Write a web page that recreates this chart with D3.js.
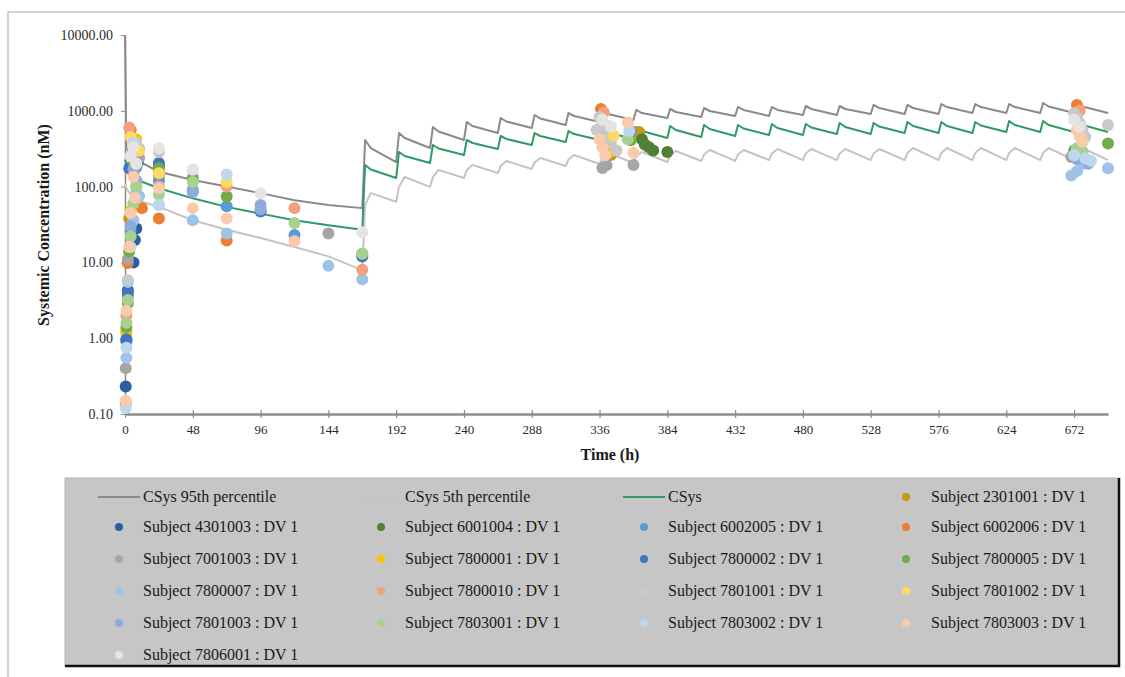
<!DOCTYPE html>
<html>
<head>
<meta charset="utf-8">
<script src="https://cdn.jsdelivr.net/npm/d3@7"></script>
<style>
  html, body { margin: 0; padding: 0; background: #fff; }
  svg { display: block; font-family: "Liberation Serif", "Times New Roman", serif; }
</style>
</head>
<body>
<svg id="chart" width="1125" height="677"></svg>
<script>
// ---- simulated systemic concentration (nM) vs time (h) ----
const simHours = [0, 1, 4, 12, 24, 48, 72, 96, 120, 144,
  168, 170, 174, 192, 194, 198, 216, 218, 222, 240, 242, 246,
  264, 266, 270, 288, 290, 294, 312, 314, 318, 336, 338, 342,
  360, 362, 366, 384, 386, 390, 408, 410, 414, 432, 434, 438,
  456, 458, 462, 480, 482, 486, 504, 506, 510, 528, 530, 534,
  552, 554, 558, 576, 578, 582, 600, 602, 606, 624, 626, 630,
  648, 650, 654, 672, 674, 678, 696];

const csys95 = [10000, 320, 260, 205, 157, 122, 100, 82, 66, 57,
  52, 412, 323, 211, 509, 438, 323, 611, 533, 412, 712, 630,
  509, 804, 723, 593, 880, 792, 650, 935, 854, 712, 994, 907,
  756, 1025, 935, 804, 1056, 964, 828, 1089, 994, 854, 1122, 1025,
  854, 1122, 1025, 880, 1157, 1056, 880, 1157, 1056, 907, 1193, 1089,
  907, 1193, 1089, 907, 1229, 1122, 935, 1229, 1122, 935, 1229, 1122,
  935, 1268, 1140, 935, 1268, 1140, 935];

const csys5 = [110, 95, 78, 63, 54, 36, 27, 21, 16, 12,
  7.9, 57, 82, 63, 99, 134, 99, 134, 166, 130, 166, 193,
  151, 187, 218, 171, 208, 238, 187, 228, 261, 199, 242, 278,
  205, 250, 286, 211, 257, 295, 218, 265, 304, 218, 265, 304,
  224, 274, 313, 224, 274, 313, 224, 274, 313, 224, 274, 313,
  224, 278, 323, 224, 278, 323, 224, 278, 323, 224, 278, 323,
  224, 278, 323, 224, 278, 323, 224];

const csys = [230, 200, 160, 116, 95, 70, 54, 44, 36, 31,
  27, 193, 168, 130, 286, 253, 205, 354, 318, 261, 412, 376,
  313, 465, 425, 354, 509, 465, 388, 541, 494, 412, 575, 517,
  425, 611, 541, 438, 630, 558, 451, 650, 575, 465, 650, 584,
  479, 670, 593, 479, 670, 602, 494, 690, 611, 494, 690, 620,
  509, 712, 630, 509, 712, 630, 509, 712, 640, 525, 734, 650,
  525, 734, 650, 525, 734, 650, 525];

// ---- observed concentrations, [hour, nM] ----
const s2301001 = [[1, 1.25], [3, 38], [6, 150], [24, 140], [344, 262], [364, 525]];
const s4301003 = [[0.5, 0.23], [1, 0.95], [2, 4.3], [6, 10], [7, 19.7], [8, 28], [9, 210], [24, 190]];
const s6001004 = [[366, 420], [368, 360], [371, 330], [374, 300], [384, 286]];
const s6002005 = [[1, 0.9], [2, 3.6], [4, 26], [8, 180], [10, 310], [24, 120], [48, 90], [72, 55], [120, 23], [342, 620], [358, 540]];
const s6002006 = [[0.5, 0.14], [2, 9.8], [4, 560], [12, 52], [24, 38], [72, 19.5], [337, 1060], [674, 1190]];
const s7001003 = [[0.5, 0.4], [2, 11], [6, 300], [10, 240], [48, 85], [144, 24], [338, 176], [341, 192], [360, 193], [670, 245]];
const s7800001 = [[1, 1.15], [4, 48], [8, 420], [24, 160], [343, 285]];
const s7800002 = [[1, 0.97], [2, 4.0], [3, 175], [24, 205], [96, 47], [168, 12]];
const s7800005 = [[1, 1.4], [2, 2.9], [3, 14], [6, 205], [8, 100], [24, 175], [48, 130], [72, 74], [168, 13], [358, 410], [672, 300], [696, 370]];
const s7800007 = [[1, 0.55], [2, 5.5], [6, 36], [8, 82], [10, 75], [24, 57], [48, 36], [72, 24], [144, 9], [168, 6], [670, 140], [674, 160], [678, 200], [696, 175]];
const s7800010 = [[1, 2.0], [3, 600], [24, 100], [72, 100], [120, 52], [168, 8], [339, 950], [676, 1010]];
const s7801001 = [[2, 5.8], [6, 290], [8, 380], [24, 285], [48, 165], [334, 560], [336, 820], [338, 700], [340, 610], [342, 480], [344, 380], [348, 300], [672, 930], [674, 820], [676, 680], [678, 560], [680, 450], [696, 650]];
const s7801002 = [[4, 450], [10, 300], [24, 150], [72, 115], [346, 470]];
const s7801003 = [[4, 30], [6, 170], [8, 120], [48, 85], [96, 57], [96, 50], [674, 230], [682, 200]];
const s7803001 = [[1, 1.6], [2, 3.2], [4, 22], [6, 60], [8, 100], [24, 78], [48, 115], [120, 33], [168, 13], [356, 420], [674, 320], [678, 290]];
const s7803002 = [[0.5, 0.12], [1, 0.75], [4, 16], [6, 375], [24, 57], [72, 144], [357, 540], [672, 260], [680, 235], [684, 220]];
const s7803003 = [[0.5, 0.15], [1, 2.3], [3, 16], [4, 45], [6, 135], [7, 71], [8, 200], [24, 95], [48, 52], [72, 38], [120, 19], [336, 420], [338, 330], [340, 260], [356, 700], [360, 280], [674, 560], [676, 460], [678, 390]];
const s7806001 = [[4, 250], [6, 330], [8, 200], [24, 320], [48, 170], [96, 82], [168, 25], [338, 760], [344, 620], [672, 760], [676, 620]];

const subjectIds = ["2301001", "4301003", "6001004", "6002005", "6002006", "7001003",
  "7800001", "7800002", "7800005", "7800007", "7800010", "7801001",
  "7801002", "7801003", "7803001", "7803002", "7803003", "7806001"];
const subjectObs = [s2301001, s4301003, s6001004, s6002005, s6002006, s7001003,
  s7800001, s7800002, s7800005, s7800007, s7800010, s7801001,
  s7801002, s7801003, s7803001, s7803002, s7803003, s7806001];

// ---- axis ticks ----
const hourTicks = [0, 48, 96, 144, 192, 240, 288, 336, 384, 432, 480, 528, 576, 624, 672];
const concTicks = [0.1, 1, 10, 100, 1000, 10000];

// ---- styling ----
const subjectColors = ["#C49A12", "#2B5EA3", "#4F8036", "#5B9BD5", "#ED7D31", "#A5A5A5",
  "#FFC000", "#4472C4", "#70AD47", "#9DC3E6", "#F4A07E", "#C9C9C9",
  "#FFD966", "#8FAADC", "#A9D18E", "#BDD7EE", "#F8CBAD", "#E4E4E4"];
const col95 = "#8a8a8a", col5 = "#c4c4c4", colCSys = "#2f9a66";

const svg = d3.select("#chart");
const plot = { left: 125, right: 1108, top: 35, bottom: 414 };

const x = d3.scaleLinear().domain([0, 696]).range([plot.left, plot.right]);
const y = d3.scaleLog().domain([0.1, 10000]).range([plot.bottom, plot.top]);

// chart area frame
svg.append("path")
  .attr("d", "M8,677V12H1125")
  .attr("fill", "none")
  .attr("stroke", "#c6c6c6")
  .attr("stroke-width", 1.5);

// y axis
const yAxis = svg.append("g")
  .attr("transform", `translate(${plot.left},0)`)
  .call(d3.axisLeft(y).tickValues(concTicks).tickFormat(d3.format(".2f")).tickSize(4).tickSizeOuter(0).tickPadding(8));
yAxis.select(".domain").attr("stroke", "#8a8a8a").attr("stroke-width", 1.5);
yAxis.selectAll(".tick line").attr("stroke", "#8a8a8a");
yAxis.selectAll(".tick text").attr("fill", "#2a2a2a").style("font-size", "14px")
  .style("font-family", "'Liberation Serif', serif");

// x axis
const xAxis = svg.append("g")
  .attr("transform", `translate(0,${plot.bottom})`)
  .call(d3.axisBottom(x).tickValues(hourTicks).tickFormat(d3.format("d")).tickSize(4).tickSizeOuter(0).tickPadding(7));
xAxis.select(".domain").attr("stroke", "#8c8c8c").attr("stroke-width", 2.5);
xAxis.selectAll(".tick line").attr("stroke", "#8c8c8c").attr("y1", -4).attr("y2", 4).attr("stroke-width", 1.2);
xAxis.selectAll(".tick text").attr("fill", "#2a2a2a").style("font-size", "13px")
  .style("font-family", "'Liberation Serif', serif");

// axis titles
svg.append("text")
  .attr("transform", "translate(49,225) rotate(-90)")
  .attr("text-anchor", "middle")
  .style("font-size", "16px").style("font-weight", "bold")
  .attr("fill", "#1a1a1a")
  .text("Systemic Concentration (nM)");
svg.append("text")
  .attr("x", 610).attr("y", 460)
  .attr("text-anchor", "middle")
  .style("font-size", "16px").style("font-weight", "bold")
  .attr("fill", "#1a1a1a")
  .text("Time (h)");

// simulated curves
const line = d3.line().x(d => x(d[0])).y(d => y(d[1]));
const curves = [
  { name: "CSys 95th percentile", values: csys95, color: col95 },
  { name: "CSys 5th percentile", values: csys5, color: col5 },
  { name: "CSys", values: csys, color: colCSys }
];
svg.append("g").selectAll("path")
  .data(curves)
  .join("path")
  .attr("d", c => line(d3.zip(simHours, c.values)))
  .attr("fill", "none")
  .attr("stroke", c => c.color)
  .attr("stroke-width", 2)
  .attr("stroke-linejoin", "round");

// observed points
const subjects = subjectIds.map((id, i) => ({ id, obs: subjectObs[i], color: subjectColors[i] }));
const dots = svg.append("g");
subjects.forEach(s => {
  dots.append("g").selectAll("circle")
    .data(s.obs)
    .join("circle")
    .attr("cx", d => x(d[0]))
    .attr("cy", d => y(d[1]))
    .attr("r", 6)
    .attr("fill", s.color);
});

// legend
const lg = svg.append("g");
const box = { x0: 65, y0: 478, x1: 1119, y1: 666 };
lg.append("rect")
  .attr("x", box.x0).attr("y", box.y0)
  .attr("width", box.x1 - box.x0).attr("height", box.y1 - box.y0)
  .attr("fill", "#c6c6c6")
  .attr("stroke", "#b4b4b4").attr("stroke-width", 1);
lg.append("path")
  .attr("d", `M${box.x0},${box.y1}H${box.x1}V${box.y0}`)
  .attr("fill", "none").attr("stroke", "#111").attr("stroke-width", 2.5);

const legendItems = curves.map(c => ({ label: c.name, kind: "line", color: c.color }))
  .concat(subjects.map(s => ({ label: `Subject ${s.id} : DV 1`, kind: "dot", color: s.color })));
const colText = [143, 405, 668, 931];
const colDot = [119, 381, 644, 906];
const rowY = [497, 527, 559, 591, 623, 655];

legendItems.forEach((it, i) => {
  const c = i % 4, r = Math.floor(i / 4);
  const cy = rowY[r];
  if (it.kind === "line") {
    lg.append("line")
      .attr("x1", colText[c] - 45).attr("x2", colText[c] - 3)
      .attr("y1", cy).attr("y2", cy)
      .attr("stroke", it.color).attr("stroke-width", 2);
  } else {
    lg.append("circle").attr("cx", colDot[c]).attr("cy", cy).attr("r", 4).attr("fill", it.color);
  }
  lg.append("text")
    .attr("x", colText[c]).attr("y", cy + 5)
    .style("font-size", "16px")
    .attr("fill", "#1a1a1a")
    .text(it.label);
});
</script>
</body>
</html>
